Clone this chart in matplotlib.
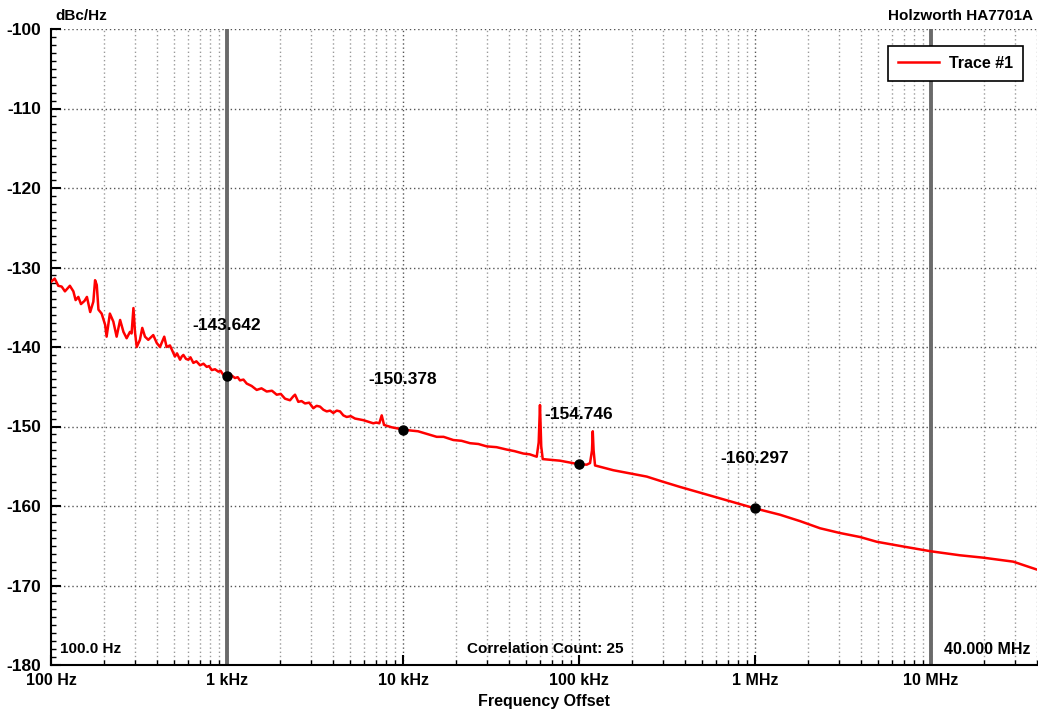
import matplotlib
matplotlib.use("Agg")
import matplotlib.pyplot as plt
from matplotlib.ticker import FixedLocator, MultipleLocator, NullFormatter

plt.rcParams['font.family'] = ['Liberation Sans', 'DejaVu Sans']
plt.rcParams['font.weight'] = 'bold'
plt.rcParams['axes.labelweight'] = 'bold'
plt.rcParams['axes.unicode_minus'] = False
plt.rcParams['font.size'] = 11

# trace (offset in Hz, phase noise in dBc/Hz)
freq_hz = [100, 105, 110, 115, 120, 128, 134, 138, 143, 148, 155, 160, 167, 174,
           178, 182, 186, 194, 203, 207, 216, 226, 236, 247, 258, 269, 281, 287,
           294, 300, 307, 320, 330, 342, 357, 381, 399, 416, 440, 454, 474, 506,
           520, 541, 553, 565, 585, 603, 620, 644, 670, 703, 735, 767, 790, 819,
           855, 893, 920, 953, 1000,
           1050, 1110, 1150, 1185, 1240, 1294, 1380, 1475, 1570, 1681, 1800, 1916,
           2020, 2136, 2280, 2381, 2435, 2542, 2650, 2774, 2930, 3093, 3230, 3377,
           3530, 3686, 3850, 4018, 4200, 4385, 4580, 4786, 5050, 5337, 5620, 5946,
           6350, 6780, 7050, 7333, 7568, 7800, 8625, 10000,
           11000, 12170, 13500, 15540, 17000, 19310, 21500, 24030, 26800, 29900,
           34000, 38820, 43000, 48260, 52500, 57500, 59000, 60000, 61000, 62200,
           78000, 100000, 110600, 115500, 118500, 119700, 121000, 123300, 156600,
           242500, 295000, 374700, 579700, 1e6, 1.387e6, 1.801e6, 2.341e6,
           3.041e6, 3.95e6, 4.92e6, 6.97e6, 1e7, 1.46e7, 1.98e7, 2.93e7, 4.0e7]
noise_dbc = [-131.8, -131.4, -132.3, -132.4, -133.0, -132.3, -133.0, -134.1, -133.7,
             -134.6, -134.2, -133.7, -135.6, -134.3, -131.6, -132.2, -135.3, -135.8,
             -137.2, -138.7, -135.8, -136.8, -138.7, -136.6, -138.1, -138.9, -138.1,
             -138.3, -135.1, -138.1, -140.0, -139.1, -137.6, -138.7, -139.1, -138.5,
             -139.5, -140.0, -138.7, -140.0, -139.8, -141.2,
             -140.8, -141.6, -141.2, -141.0, -141.5, -141.6, -141.3, -142.0, -141.8,
             -142.3, -142.1, -142.5, -142.4, -142.9, -142.8, -143.1, -143.0, -143.5,
             -143.64,
             -143.5, -143.9, -143.8, -144.2, -144.1, -144.6, -144.9, -145.4, -145.2,
             -145.6, -145.5, -146.0, -145.9, -146.5, -146.7, -146.2, -146.0, -146.9,
             -146.8, -147.1, -147.0, -147.7, -147.4, -147.5, -147.9, -148.1, -148.0,
             -148.3, -148.0, -148.1, -148.6, -148.8, -148.7, -149.0, -149.1, -149.2,
             -149.4, -149.6, -149.5, -149.6, -148.6, -149.8, -150.1, -150.38,
             -150.5, -150.6, -150.9, -151.3, -151.3, -151.7, -151.8, -152.1, -152.2,
             -152.5, -152.6, -152.9, -153.1, -153.4, -153.5, -153.8, -152.0, -147.3,
             -152.5, -154.1, -154.3, -154.75, -154.8, -154.6, -153.0, -150.6, -153.0,
             -154.9, -155.5, -156.3, -156.9, -157.6, -158.8, -160.3, -161.1, -161.9,
             -162.8, -163.4, -163.9, -164.5, -165.1, -165.7, -166.2, -166.5, -167.0,
             -168.0]

marker_hz = [1e3, 1e4, 1e5, 1e6]
marker_dbc = [-143.642, -150.378, -154.746, -160.297]

xtick_hz = [1e2, 1e3, 1e4, 1e5, 1e6, 1e7]
xtick_labels = ['100 Hz', '1 kHz', '10 kHz', '100 kHz', '1 MHz', '10 MHz']
span_lines_hz = [1e3, 1e7]

W, H = 1038, 715
fig = plt.figure(figsize=(W / 100, H / 100), dpi=100)
ax = fig.add_axes([51 / W, 1 - 665 / H, 986 / W, 636 / H])

ax.set_xscale('log')
ax.set_xlim(100, 4e7)
ax.set_ylim(-180, -100)

# grid
minor_hz = [m * 10 ** d for d in range(2, 8) for m in range(2, 10) if m * 10 ** d <= 4e7]
for f in minor_hz:
    ax.axvline(f, color='#9a9a9a', lw=1, ls=(0, (1, 2)), zorder=1)
for f in xtick_hz[1:]:
    ax.axvline(f, color='#555555', lw=1, ls=(0, (1, 2)), zorder=1)
for v in range(-170, -99, 10):
    ax.axhline(v, color='#555555', lw=1, ls=(0, (1, 2)), zorder=1)
for f in span_lines_hz:
    ax.axvline(f, color='#6a6a6a', lw=2.8, zorder=2)

line, = ax.plot(freq_hz, noise_dbc, color='#ff0000', lw=1.8, zorder=3, label='Trace #1')
ax.plot(marker_hz, marker_dbc, 'o', color='black', ms=6.5, zorder=4)
for f, v in zip(marker_hz, marker_dbc):
    ax.annotate(f'{v:.3f}', (f, v), xytext=(-35, 50), textcoords='offset pixels',
                ha='left', va='center', fontsize=12.5)

# ticks
ax.xaxis.set_major_locator(FixedLocator(xtick_hz))
ax.set_xticklabels(xtick_labels)
ax.xaxis.set_minor_locator(FixedLocator(minor_hz))
ax.xaxis.set_minor_formatter(NullFormatter())
ax.yaxis.set_major_locator(MultipleLocator(10))
ax.yaxis.set_minor_locator(MultipleLocator(1))
ax.tick_params(axis='both', which='major', direction='in', length=7, width=1.5)
ax.tick_params(axis='both', which='minor', direction='in', length=3.5, width=1)
ax.tick_params(axis='x', labelsize=11.5, pad=6)
ax.tick_params(axis='y', labelsize=12.5, pad=7)

for s in ['top', 'right']:
    ax.spines[s].set_visible(False)
ax.spines['left'].set_linewidth(1.5)
ax.spines['bottom'].set_linewidth(1.5)

ax.set_xlabel('Frequency Offset', fontsize=11.5, labelpad=4)

leg = ax.legend(handles=[line], loc='upper right', bbox_to_anchor=(1023 / W, 1 - 46 / H),
                bbox_transform=fig.transFigure, borderaxespad=0, fancybox=False,
                framealpha=1, edgecolor='black', handlelength=2.6, fontsize=11.5,
                borderpad=0.62, handletextpad=0.6)
leg.get_frame().set_linewidth(1.2)

# header / footer texts
fig.text(55 / W, 1 - 16 / H, 'dBc/Hz', ha='left', va='center')
fig.text(1033 / W, 1 - 16 / H, 'Holzworth HA7701A', ha='right', va='center')
fig.text(60 / W, 1 - 649 / H, '100.0 Hz', ha='left', va='center')
fig.text(545 / W, 1 - 649 / H, 'Correlation Count: 25', ha='center', va='center')
fig.text(1030 / W, 1 - 649 / H, '40.000 MHz', ha='right', va='center', fontsize=11.5)

fig.savefig('out.png', dpi=100)
